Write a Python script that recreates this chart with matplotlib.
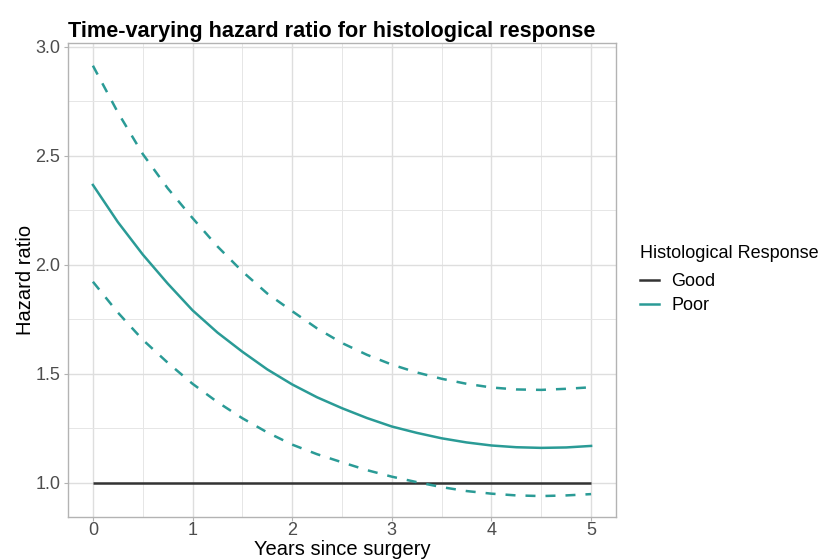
import numpy as np
import matplotlib.pyplot as plt
from matplotlib.lines import Line2D

plt.rcParams['font.family'] = ['Liberation Sans', 'DejaVu Sans']

# values (quarter-year steps)
years = [0, 0.25, 0.5, 0.75, 1, 1.25, 1.5, 1.75, 2, 2.25, 2.5,
         2.75, 3, 3.25, 3.5, 3.75, 4, 4.25, 4.5, 4.75, 5]
hr_poor = [2.367, 2.197, 2.048, 1.915, 1.792, 1.69, 1.602, 1.521, 1.452,
           1.393, 1.343, 1.298, 1.259, 1.23, 1.205, 1.186, 1.172, 1.164,
           1.161, 1.163, 1.17]
hr_upper = [2.914, 2.70, 2.509, 2.352, 2.215, 2.085, 1.97, 1.869, 1.788,
            1.709, 1.642, 1.588, 1.543, 1.507, 1.478, 1.455, 1.438, 1.429,
            1.427, 1.432, 1.439]
hr_lower = [1.923, 1.782, 1.657, 1.552, 1.455, 1.371, 1.297, 1.232, 1.176,
            1.132, 1.095, 1.059, 1.029, 1.004, 0.981, 0.963, 0.951, 0.943,
            0.940, 0.943, 0.949]
good_x = [0, 5]
good_hr = [1.0, 1.0]
groups = ['Good', 'Poor']

teal = '#2A9B96'
dark = '#333333'
lw = 1.8

fig = plt.figure(figsize=(8.24, 5.6), dpi=100)
ax = fig.add_axes([68/824, 1-517/560, (616-68)/824, (517-43)/560])

ax.plot(good_x, good_hr, color=dark, lw=lw, solid_capstyle='butt', zorder=3)
ax.plot(years, hr_poor, color=teal, lw=lw, zorder=3)
ax.plot(years, hr_upper, color=teal, lw=lw, ls=(0, (4, 4)), zorder=3)
ax.plot(years, hr_lower, color=teal, lw=lw, ls=(0, (4, 4)), zorder=3)

ax.set_xlim(-0.25, 5.25)
ax.set_ylim(0.844, 3.018)
ax.set_xticks([0, 1, 2, 3, 4, 5])
ax.set_yticks([1.0, 1.5, 2.0, 2.5, 3.0])
ax.set_yticklabels(['1.0', '1.5', '2.0', '2.5', '3.0'])
ax.set_xticks(np.arange(0.5, 5, 1), minor=True)
ax.set_yticks([1.25, 1.75, 2.25, 2.75], minor=True)

ax.grid(which='major', color='#DEDEDE', lw=1.0)
ax.grid(which='minor', color='#E6E6E6', lw=0.7)
ax.set_axisbelow(True)
for s in ax.spines.values():
    s.set_color('#B3B3B3')
    s.set_linewidth(1.0)
ax.tick_params(which='major', length=3, color='#B3B3B3', labelsize=13,
               labelcolor='#4D4D4D')
ax.tick_params(axis='x', pad=0.5)
ax.tick_params(axis='y', pad=2.4)
ax.tick_params(which='minor', length=0)

ax.set_xlabel('Years since surgery', fontsize=14.5, labelpad=0.5)
ax.set_ylabel('Hazard ratio', fontsize=14.5, labelpad=0)
ax.set_title('Time-varying hazard ratio for histological response',
             loc='left', fontsize=15.6, fontweight='bold', pad=4.5)

# legend: title as its own text, entries below
fig.text(640/824, 1-258/560, 'Histological Response', fontsize=13,
         ha='left', va='baseline')
handles = [Line2D([], [], color=dark, lw=lw),
           Line2D([], [], color=teal, lw=lw)]
leg = fig.legend(handles, groups, loc='upper left',
                 bbox_to_anchor=(640/824, 1-273/560),
                 frameon=False, fontsize=13, borderpad=0, borderaxespad=0,
                 handlelength=1.05, handletextpad=0.67, labelspacing=0.4)

fig.savefig('out.png', dpi=100)
